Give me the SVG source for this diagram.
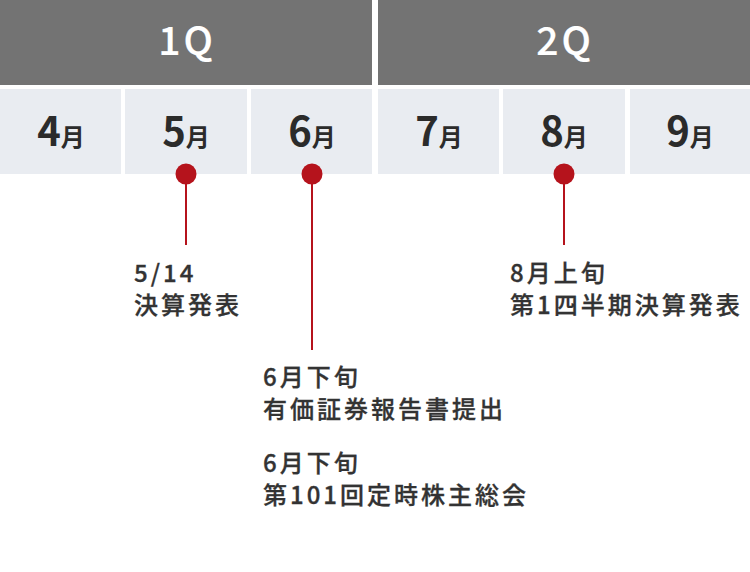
<svg xmlns="http://www.w3.org/2000/svg" width="750" height="572" viewBox="0 0 750 572">
<style>
.q{fill:#737373}
.qt{fill:#ffffff;stroke:#ffffff;stroke-width:0.2px;font-family:"Noto Sans CJK JP","Noto Sans",sans-serif;font-size:39px;font-weight:500;text-anchor:middle;letter-spacing:3px}
.m{fill:#e9ecf1}
.mt{fill:#2b2b2b;font-family:"Noto Sans CJK JP","Noto Sans",sans-serif;font-weight:700;text-anchor:middle}
.d{font-size:40px}
.u{font-size:24px}
.ln{stroke:#b5131c;stroke-width:2;fill:none}
.dot{fill:#b5131c}
.t{fill:#333333;stroke:#333333;stroke-width:0.3px;font-family:"Noto Sans CJK JP","Noto Sans",sans-serif;font-size:24px;font-weight:500;letter-spacing:3px}
</style>
<rect width="750" height="572" fill="#ffffff"/>
<g id="q1"><rect class="q" x="0" y="0" width="372" height="85"/><text class="qt" x="187" y="55">1Q</text></g>
<g id="q2"><rect class="q" x="378" y="0" width="372" height="85"/><text class="qt" x="565" y="55">2Q</text></g>
<g id="m4"><rect class="m" x="0" y="89" width="121" height="85"/><text class="mt" x="61" y="146"><tspan class="d">4</tspan><tspan class="u">月</tspan></text></g>
<g id="m5"><rect class="m" x="125" y="89" width="122" height="85"/><text class="mt" x="186" y="146"><tspan class="d">5</tspan><tspan class="u">月</tspan></text></g>
<g id="m6"><rect class="m" x="251" y="89" width="121" height="85"/><text class="mt" x="312" y="146"><tspan class="d">6</tspan><tspan class="u">月</tspan></text></g>
<g id="m7"><rect class="m" x="378" y="89" width="121" height="85"/><text class="mt" x="439" y="146"><tspan class="d">7</tspan><tspan class="u">月</tspan></text></g>
<g id="m8"><rect class="m" x="503" y="89" width="122" height="85"/><text class="mt" x="564" y="146"><tspan class="d">8</tspan><tspan class="u">月</tspan></text></g>
<g id="m9"><rect class="m" x="630" y="89" width="120" height="85"/><text class="mt" x="690" y="146"><tspan class="d">9</tspan><tspan class="u">月</tspan></text></g>
<g id="connectors">
<line class="ln" x1="186" y1="174" x2="186" y2="245"/>
<line class="ln" x1="312" y1="174" x2="312" y2="350"/>
<line class="ln" x1="564" y1="174" x2="564" y2="245"/>
<circle class="dot" cx="186" cy="174" r="10.5"/>
<circle class="dot" cx="312" cy="174" r="10.5"/>
<circle class="dot" cx="564" cy="174" r="10.5"/>
</g>
<g id="e1"><text class="t" x="134" y="281.5">5/14</text><text class="t" x="134" y="313.5">決算発表</text></g>
<g id="e2"><text class="t" x="263" y="386">6月下旬</text><text class="t" x="263" y="418">有価証券報告書提出</text></g>
<g id="e3"><text class="t" x="263" y="471.5">6月下旬</text><text class="t" x="263" y="503.5">第101回定時株主総会</text></g>
<g id="e4"><text class="t" x="510" y="281.5">8月上旬</text><text class="t" x="510" y="313.5">第1四半期決算発表</text></g>
</svg>
